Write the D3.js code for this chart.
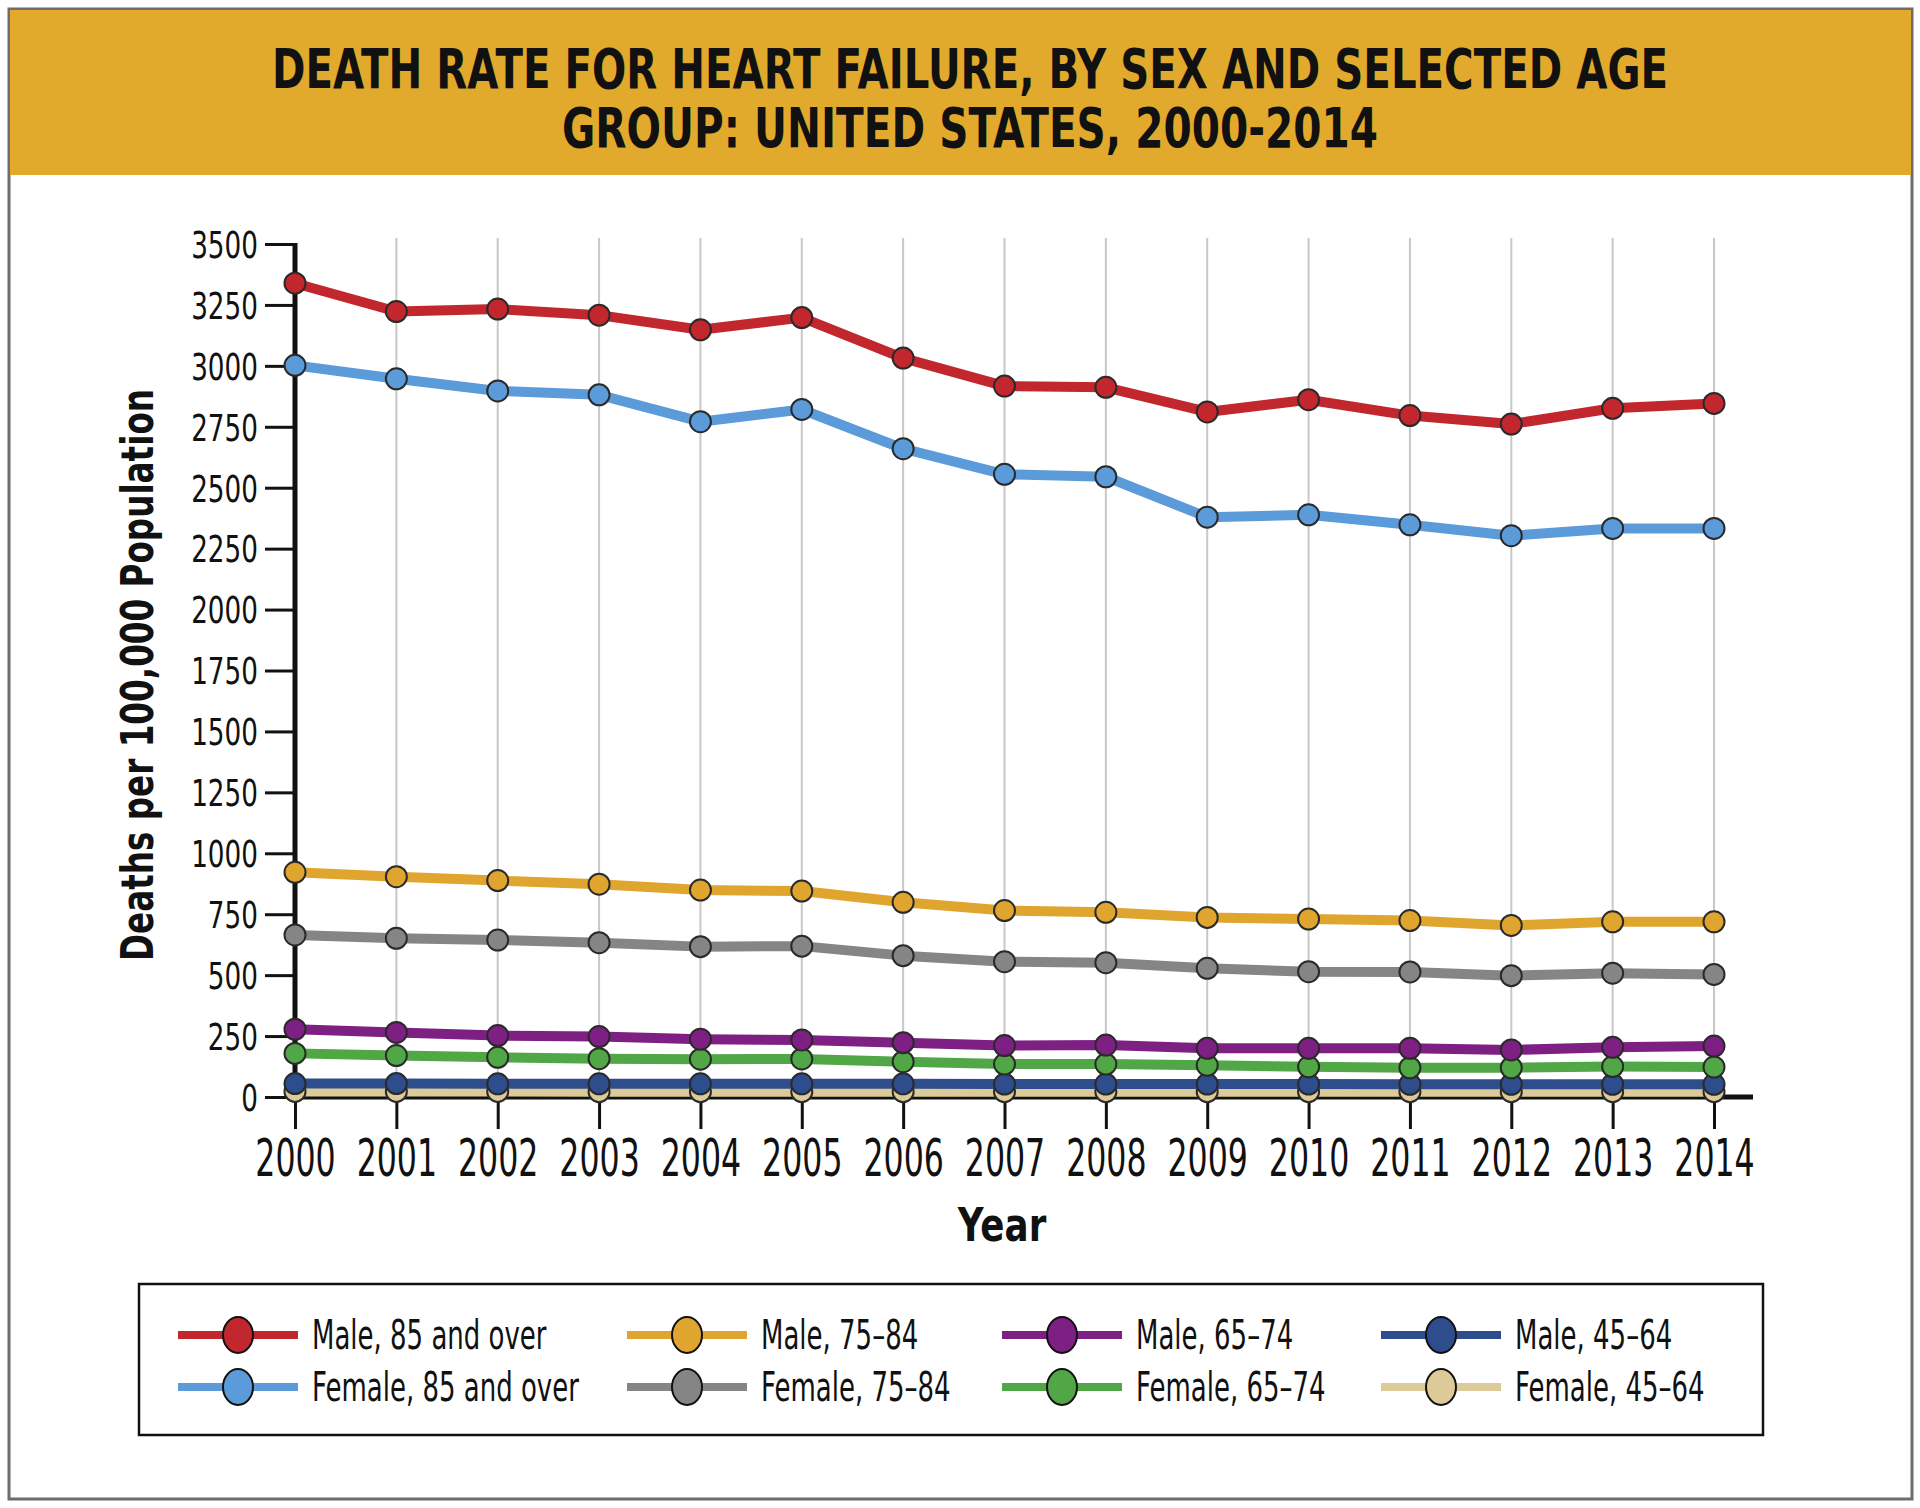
<!DOCTYPE html>
<html lang="en">
	<head>
		<meta charset="utf-8">
		<title>Death rate for heart failure</title>
		<script src="https://cdn.jsdelivr.net/npm/d3@7"></script>
		<style>
			body { margin: 0; background: #fff; }
			text { font-family: "DejaVu Sans", "Liberation Sans", sans-serif; }
		</style>
	</head>
	<body>
		<script>

			//Canvas
			var w = 1920;
			var h = 1508;

			//Data
			var years = [2000, 2001, 2002, 2003, 2004, 2005, 2006, 2007, 2008, 2009, 2010, 2011, 2012, 2013, 2014];
			var yTicks = [0, 250, 500, 750, 1000, 1250, 1500, 1750, 2000, 2250, 2500, 2750, 3000, 3250, 3500];

			var male85 =   [3339, 3223, 3233, 3208, 3148, 3198, 3032, 2917, 2912, 2811, 2861, 2796, 2761, 2826, 2846];
			var female85 = [3002, 2947, 2897, 2881, 2771, 2821, 2660, 2555, 2545, 2379, 2389, 2348, 2303, 2333, 2333];
			var male75 =   [922, 904, 888, 873, 849, 845, 799, 765, 758, 737, 730, 724, 704, 719, 719];
			var female75 = [665, 651, 644, 633, 617, 619, 580, 555, 551, 528, 514, 513, 498, 508, 503];
			var male65 =   [278, 265, 252, 248, 237, 234, 223, 211, 213, 200, 200, 200, 193, 204, 209];
			var female65 = [179, 170, 163, 157, 155, 156, 145, 135, 135, 130, 124, 120, 120, 125, 123];
			var male45 =   [55, 55, 54, 54, 54, 54, 54, 53, 53, 53, 53, 52, 52, 52, 52];
			var female45 = [23, 23, 23, 22, 22, 22, 22, 22, 22, 22, 22, 22, 22, 22, 22];

			var seriesNames = ["Male, 85 and over", "Female, 85 and over", "Male, 75\u201384", "Female, 75\u201384",
							   "Male, 65\u201374", "Female, 65\u201374", "Male, 45\u201364", "Female, 45\u201364"];
			var seriesValues = [male85, female85, male75, female75, male65, female65, male45, female45];
			var seriesColors = ["#c1272d", "#5b9bd9", "#e0a52e", "#858585", "#7e1f84", "#51a646", "#2e4d8c", "#dccb98"];

			//No condensed font here, so squeeze text sideways round its anchor
			function squeeze(sel, sx) {
				sel.each(function() {
					var t = d3.select(this);
					var x = +t.attr("x") || 0;
					var y = +t.attr("y") || 0;
					t.attr("x", 0).attr("y", 0)
					 .attr("transform", "translate(" + x + "," + y + ") scale(" + sx + ",1)");
				});
			}

			var svg = d3.select("body")
						.append("svg")
						.attr("width", w)
						.attr("height", h);

			//Frame and header band
			svg.append("rect")
			   .attr("x", 9).attr("y", 9)
			   .attr("width", 1903).attr("height", 1490)
			   .attr("fill", "#fff")
			   .attr("stroke", "#6d6d6d")
			   .attr("stroke-width", 3);

			svg.append("rect")
			   .attr("x", 10).attr("y", 10)
			   .attr("width", 1901).attr("height", 165)
			   .attr("fill", "#e1aa2c");

			var titleLines = ["DEATH RATE FOR HEART FAILURE, BY SEX AND SELECTED AGE", "GROUP: UNITED STATES, 2000-2014"];
			var titleWidths = [1396, 816];
			var titleSx = 0.6;
			svg.selectAll("text.title")
			   .data(titleLines)
			   .enter()
			   .append("text")
			   .attr("class", "title")
			   .text(function(d) { return d; })
			   .attr("x", 970)
			   .attr("y", function(d, i) { return 88 + i * 59; })
			   .attr("text-anchor", "middle")
			   .attr("textLength", function(d, i) { return titleWidths[i] / titleSx; })
			   .attr("lengthAdjust", "spacingAndGlyphs")
			   .attr("font-size", "56px")
			   .attr("font-weight", "bold")
			   .attr("fill", "#111")
			   .call(squeeze, titleSx);

			//Scales
			var xScale = d3.scaleLinear()
						   .domain([2000, 2014])
						   .range([295, 1714]);

			var yScale = d3.scaleLinear()
						   .domain([0, 3500])
						   .range([1097, 244]);

			//Vertical grid lines
			svg.selectAll("line.grid")
			   .data(years.slice(1))
			   .enter()
			   .append("line")
			   .attr("class", "grid")
			   .attr("x1", function(d) { return xScale(d); })
			   .attr("x2", function(d) { return xScale(d); })
			   .attr("y1", 238)
			   .attr("y2", yScale(0))
			   .attr("stroke", "#c8c8c8")
			   .attr("stroke-width", 2);

			//Axes
			var yAxis = d3.axisLeft(yScale)
						  .tickValues(yTicks)
						  .tickSize(30)
						  .tickPadding(7)
						  .tickFormat(d3.format("d"));

			var xAxis = d3.axisBottom(xScale)
						  .tickValues(years)
						  .tickSize(32)
						  .tickPadding(11)
						  .tickFormat(d3.format("d"));

			var gy = svg.append("g")
						.attr("transform", "translate(" + xScale(2000) + ",0)")
						.call(yAxis);

			var gx = svg.append("g")
						.attr("transform", "translate(0," + yScale(0) + ")")
						.call(xAxis);

			[gy, gx].forEach(function(g) {
				g.select(".domain").remove();
				g.selectAll(".tick line").attr("stroke", "#111").attr("stroke-width", 3);
				g.selectAll(".tick text").attr("fill", "#111");
			});
			gy.selectAll(".tick text")
			  .attr("font-size", "37px")
			  .attr("dy", "0.36em")
			  .call(squeeze, 0.71);
			gx.selectAll(".tick text")
			  .attr("font-size", "51px")
			  .call(squeeze, 0.62);

			//Thick axis lines
			svg.append("line")
			   .attr("x1", xScale(2000)).attr("x2", xScale(2000))
			   .attr("y1", yScale(3500) - 1).attr("y2", yScale(0) + 3)
			   .attr("stroke", "#111").attr("stroke-width", 5);

			svg.append("line")
			   .attr("x1", xScale(2000) - 2).attr("x2", 1753)
			   .attr("y1", yScale(0)).attr("y2", yScale(0))
			   .attr("stroke", "#111").attr("stroke-width", 5);

			//Axis titles
			svg.append("text")
			   .text("Deaths per 100,000 Population")
			   .attr("transform", "translate(153,675) rotate(-90)")
			   .attr("text-anchor", "middle")
			   .attr("textLength", 572)
			   .attr("lengthAdjust", "spacingAndGlyphs")
			   .attr("font-size", "45px")
			   .attr("font-weight", "bold")
			   .attr("fill", "#111");

			svg.append("text")
			   .text("Year")
			   .attr("x", 1002)
			   .attr("y", 1241)
			   .attr("text-anchor", "middle")
			   .attr("font-size", "47px")
			   .attr("font-weight", "bold")
			   .attr("fill", "#111")
			   .call(squeeze, 0.76);

			//Lines, drawn bottom series first so the top ones sit above
			var line = d3.line()
						 .x(function(d, i) { return xScale(years[i]); })
						 .y(function(d) { return yScale(d); });

			var order = [7, 6, 5, 4, 3, 2, 1, 0];
			var groups = svg.selectAll("g.series")
							.data(order)
							.enter()
							.append("g")
							.attr("class", "series");

			groups.append("path")
				  .attr("d", function(k) { return line(seriesValues[k]); })
				  .attr("fill", "none")
				  .attr("stroke", function(k) { return seriesColors[k]; })
				  .attr("stroke-width", 10)
				  .attr("stroke-linejoin", "round");

			groups.selectAll("circle")
				  .data(function(k) {
					  return seriesValues[k].map(function(v, i) { return { v: v, i: i, k: k }; });
				  })
				  .enter()
				  .append("circle")
				  .attr("cx", function(d) { return xScale(years[d.i]); })
				  .attr("cy", function(d) { return yScale(d.v); })
				  .attr("r", 10.5)
				  .attr("fill", function(d) { return seriesColors[d.k]; })
				  .attr("stroke", "#2a2a2a")
				  .attr("stroke-width", 2);

			//Legend
			svg.append("rect")
			   .attr("x", 139).attr("y", 1284)
			   .attr("width", 1624).attr("height", 151)
			   .attr("fill", "none")
			   .attr("stroke", "#111")
			   .attr("stroke-width", 2.5);

			var legendCols = [178, 627, 1002, 1381];
			var legendRows = [1335, 1387];

			var items = svg.selectAll("g.legend")
						   .data(d3.range(8))
						   .enter()
						   .append("g")
						   .attr("class", "legend")
						   .attr("transform", function(k) {
								return "translate(" + legendCols[Math.floor(k / 2)] + "," + legendRows[k % 2] + ")";
						   });

			items.append("line")
				 .attr("x1", 0).attr("x2", 120)
				 .attr("y1", 0).attr("y2", 0)
				 .attr("stroke", function(k) { return seriesColors[k]; })
				 .attr("stroke-width", 8);

			items.append("ellipse")
				 .attr("cx", 60).attr("cy", 0)
				 .attr("rx", 15).attr("ry", 18)
				 .attr("fill", function(k) { return seriesColors[k]; })
				 .attr("stroke", "#111")
				 .attr("stroke-width", 2);

			items.append("text")
				 .text(function(k) { return seriesNames[k]; })
				 .attr("x", 134)
				 .attr("y", 0)
				 .attr("dy", "0.36em")
				 .attr("font-size", "40px")
				 .attr("fill", "#111")
				 .call(squeeze, 0.65);

		</script>
	</body>
</html>
